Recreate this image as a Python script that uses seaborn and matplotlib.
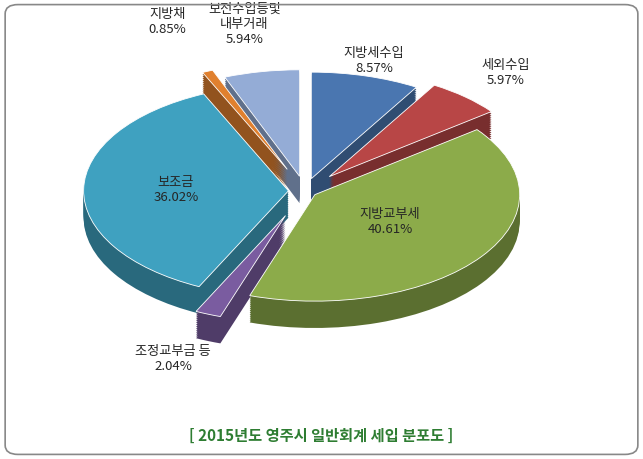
import numpy as np
import matplotlib
matplotlib.use("Agg")
import matplotlib.pyplot as plt
import seaborn as sns
from matplotlib.patches import FancyBboxPatch
import matplotlib.colors as mc

sns.set_theme(style="white")
plt.rcParams['font.family'] = ['Noto Sans CJK KR', 'DejaVu Sans']

categories = ["지방세수입", "세외수입", "지방교부세", "조정교부금 등", "보조금", "지방채", "보전수입등및\n내부거래"]
values = [8.57, 5.97, 40.61, 2.04, 36.02, 0.85, 5.94]
colors = ["#4a76b0", "#b84646", "#8cab4a", "#7a5ca0", "#3fa1c0", "#e0802e", "#94acd6"]
explode = [0.12, 0.18, 0.06, 0.25, 0.08, 0.22, 0.14]
label_dist = [1.15, 1.3, 0.45, 1.45, 0.55, 1.5, 1.45]

fig = plt.figure(figsize=(6.43, 4.59), dpi=100)
fig.patch.set_facecolor("white")
fig.patches.append(FancyBboxPatch((0.008, 0.01), 0.984, 0.98, boxstyle="round,pad=0,rounding_size=0.02",
                                  transform=fig.transFigure, fill=False, ec="#888888", lw=1.2))
ax = fig.add_axes([0.06, 0.12, 0.86, 0.87])

def dark(c, f=0.65):
    r, g, b = mc.to_rgb(c)
    return (r*f, g*f, b*f)

depth = 14
for k in range(depth, 0, -1):
    ax.pie(values, colors=[dark(c) for c in colors], explode=explode, startangle=90,
           counterclock=False, center=(0, -k*0.018), wedgeprops=dict(linewidth=0))
wedges, texts = ax.pie(values, colors=colors, explode=explode, startangle=90, counterclock=False,
                       labels=[f"{c}\n{v:.2f}%" for c, v in zip(categories, values)],
                       wedgeprops=dict(linewidth=0.6, edgecolor="white"), textprops=dict(fontsize=9.5))
for w, t, d, e in zip(wedges, texts, label_dist, explode):
    a = np.deg2rad((w.theta1 + w.theta2) / 2)
    t.set_position(((d + e) * np.cos(a), (d + e) * np.sin(a)))
    t.set_ha("center"); t.set_va("center")
ax.set_aspect("auto")
ax.set_xlim(-1.3, 1.4)
ax.set_ylim(-2.0, 1.75)

fig.text(0.5, 0.05, "[ 2015년도 영주시 일반회계 세입 분포도 ]", ha="center", va="center",
         color="#2e7d32", fontsize=11, fontweight="bold")
fig.savefig("out.png", dpi=100)
